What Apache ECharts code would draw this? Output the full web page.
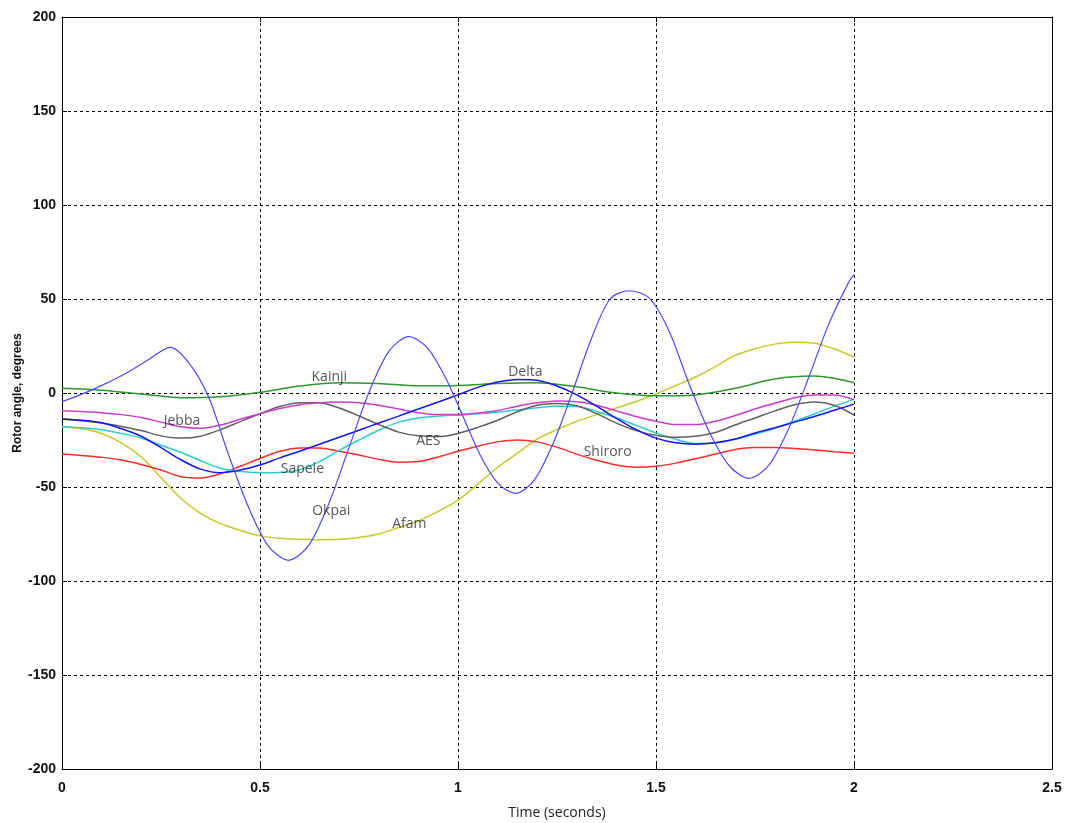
<!DOCTYPE html>
<html>
<head>
<meta charset="utf-8">
<script src="https://cdn.jsdelivr.net/npm/echarts@6/dist/echarts.min.js"></script>
<style>
html,body{margin:0;padding:0;background:#fff;}
#chart{width:1067px;height:823px;}
</style>
</head>
<body>
<div id="chart"></div>
<script>
// Tick labels
const xTicks = [0, 0.5, 1, 1.5, 2, 2.5];
const yTicks = [-200, -150, -100, -50, 0, 50, 100, 150, 200];

// Sample times (s): every 0.05 s from 0 to 2
const t05 = [0,0.05,0.1,0.15,0.2,0.25,0.3,0.35,0.4,0.45,0.5,0.55,0.6,0.65,0.7,0.75,0.8,0.85,0.9,0.95,1.0,1.05,1.1,1.15,1.2,1.25,1.3,1.35,1.4,1.45,1.5,1.55,1.6,1.65,1.7,1.75,1.8,1.85,1.9,1.95,2.0];
// Kainji sampled every 0.1 s
const t10 = [0,0.1,0.2,0.3,0.4,0.5,0.6,0.7,0.8,0.9,1.0,1.1,1.2,1.3,1.4,1.5,1.6,1.7,1.8,1.9,2.0];
// Okpai read at its peaks/troughs and between them
const okpaiT = [0,0.055,0.11,0.164,0.219,0.273,0.319,0.370,0.420,0.471,0.521,0.572,0.623,0.673,0.724,0.775,0.825,0.876,0.921,0.966,1.011,1.055,1.100,1.145,1.193,1.241,1.289,1.336,1.384,1.432,1.483,1.533,1.584,1.634,1.685,1.735,1.785,1.835,1.886,1.936,1.986,2.0];

// Rotor angles (degrees)
const okpaiV   = [-4.6,-0.2,5,10.8,17.8,24.3,16.4,-2,-32.5,-60.75,-81.4,-89,-81,-59.25,-29.5,0.25,22,30,24.4,9.15,-11.7,-32.55,-47.8,-53.4,-46.2,-26.45,0.5,28.5,50,54.4,50.5,33,4.5,-20.45,-38.7,-45.4,-38.4,-19,8.5,36.5,58.7,63];
const kainjiV  = [2.5,1.5,-0.5,-2.5,-2,0.4,3.7,5.5,5,3.8,4,5,5.5,3.3,0,-1.5,-1,2.5,7.5,9,5.5];
const jebbaV   = [-9.4,-9.9,-10.5,-11.5,-13,-15.5,-18,-18.8,-17,-14,-11,-8.3,-6.2,-5.2,-4.8,-5.2,-6.5,-8.5,-10.5,-11.5,-11.5,-10.7,-9.3,-7,-5.2,-4.2,-4.6,-6.5,-9.5,-12.5,-15,-16.8,-16.8,-15,-12,-8.5,-5.5,-2.5,-1,-1,-3.4];
const aesV     = [-14,-14.8,-16,-17.8,-20,-22.8,-24,-23,-19.5,-15.2,-11,-7.2,-5.2,-5.2,-8,-12.2,-16.8,-20.8,-22.8,-23.2,-21.5,-18.3,-14.5,-10,-6.5,-5.6,-6.8,-11,-16,-20,-22.5,-23.6,-23,-21,-17,-13.3,-9.5,-6.2,-4.8,-6.5,-11.7];
const sapeleV  = [-17.9,-18.5,-19.5,-21.5,-24,-27.8,-31.5,-36,-40,-41.8,-42.4,-42.3,-40.8,-36.5,-30.5,-25,-19.8,-15.5,-13.3,-12.3,-11.7,-11.1,-10.3,-9,-7.8,-7.1,-7.2,-9.8,-13.2,-17.2,-21.2,-24.6,-26.8,-26.5,-24.6,-22,-18.8,-15,-11.2,-7,-3.4];
const deltaV   = [-13.8,-14.5,-15.8,-19,-23,-29,-35.5,-40.5,-42.4,-41,-38.3,-34.5,-31,-27.3,-23.5,-19.8,-16,-12.3,-8.5,-4.8,-1,3,5.8,7.2,6.8,3.7,-1,-7,-13.5,-19.5,-24,-26.5,-27.2,-26.5,-24.5,-21.3,-18.5,-15.5,-12.5,-9.2,-5.9];
const shiroroV = [-32.4,-33.2,-34.2,-35.6,-38,-41,-44.5,-45.2,-43,-39,-34.8,-31,-29.2,-29.2,-31,-33,-35.3,-36.8,-36.5,-34,-31,-28.3,-26,-25,-26,-28.8,-32.5,-35.8,-38.3,-39.5,-39,-37.3,-35,-32.5,-30,-29,-29,-29.5,-30.3,-31.2,-32];
const afamV    = [-17.9,-19,-21.5,-26.5,-34,-45,-56,-64,-69.5,-73,-76,-77.3,-77.8,-78,-77.8,-76.8,-75,-71.5,-68,-63,-57,-48.5,-39.5,-32,-24.5,-19.5,-15,-11.5,-8,-4.5,-0.5,4,8.5,14,20,23.5,26,27,26.5,23.5,19];

// Curve labels (name, time, angle)
const labelNames = ['Kainji','Delta','Jebba','AES','Shiroro','Sapele','Okpai','Afam'];
const labelT = [0.675, 1.17, 0.303, 0.925, 1.378, 0.607, 0.68, 0.877];
const labelV = [8.5, 11, -15, -25.5, -31.4, -40.4, -63, -69.7];

function pairs(t, v){ return t.map((x,i)=>[x, v[i]]); }

const chart = echarts.init(document.getElementById('chart'), null, {renderer:'canvas'});

const tickFont = {fontFamily:'"Liberation Sans Narrow","Liberation Sans",Arial,sans-serif', fontWeight:'bold', fontSize:14, color:'#111'};
const gridLine = {show:true, lineStyle:{color:'#000', type:[3,3], width:1}};

function line(name, t, v, color, w){
  return {name:name, type:'line', data:pairs(t,v), showSymbol:false, smooth:0.3,
    lineStyle:{color:color, width:w}, itemStyle:{color:color}, z:2, animation:false};
}

chart.setOption({
  animation:false,
  backgroundColor:'#fff',
  grid:{left:62, right:15, top:17, bottom:54, containLabel:false, outerBoundsMode:'none'},
  xAxis:[{
    type:'value', min:0, max:2.5, interval:0.5,
    name:'Time (seconds)', nameLocation:'middle', nameGap:37,
    nameTextStyle:{fontFamily:'"Open Sans","Noto Sans",sans-serif', fontSize:14, color:'#222'},
    axisLine:{show:true, onZero:false, lineStyle:{color:'#000', width:1}},
    axisTick:{show:true, inside:true, length:5, lineStyle:{color:'#000'}},
    axisLabel:Object.assign({margin:12, formatter:(v)=>xTicks.includes(v)?String(v):''}, tickFont),
    splitLine:gridLine
  },{
    type:'value', min:0, max:2.5, interval:0.5, position:'top',
    axisLine:{show:true, onZero:false, lineStyle:{color:'#000', width:1}},
    axisTick:{show:true, inside:true, length:5, lineStyle:{color:'#000'}},
    axisLabel:{show:false}, splitLine:{show:false}
  }],
  yAxis:[{
    type:'value', min:-200, max:200, interval:50,
    name:'Rotor angle, degrees', nameLocation:'middle', nameGap:38, nameRotate:90, nameMoveOverlap:false,
    nameTextStyle:{fontFamily:'"Liberation Sans",Arial,sans-serif', fontWeight:'bold', fontSize:12, color:'#111'},
    axisLine:{show:true, onZero:false, lineStyle:{color:'#000', width:1}},
    axisTick:{show:true, inside:true, length:5, lineStyle:{color:'#000'}},
    axisLabel:Object.assign({margin:6, formatter:(v)=>yTicks.includes(v)?String(v):''}, tickFont),
    splitLine:gridLine
  },{
    type:'value', min:-200, max:200, interval:50, position:'right',
    axisLine:{show:true, onZero:false, lineStyle:{color:'#000', width:1}},
    axisTick:{show:true, inside:true, length:5, lineStyle:{color:'#000'}},
    axisLabel:{show:false}, splitLine:{show:false}
  }],
  series:[
    line('Afam', t05, afamV, '#c8c82a', 1.5),
    line('Shiroro', t05, shiroroV, '#ff2a2a', 1.5),
    line('Sapele', t05, sapeleV, '#2ccccc', 1.5),
    line('AES', t05, aesV, '#606060', 1.5),
    line('Jebba', t05, jebbaV, '#cc3ccc', 1.5),
    line('Kainji', t10, kainjiV, '#2e962e', 1.5),
    line('Delta', t05, deltaV, '#1414f0', 1.5),
    line('Okpai', okpaiT, okpaiV, '#4a4aff', 1.2),
    {
      name:'labels', type:'scatter', symbolSize:0, z:5, animation:false,
      data: labelNames.map((n,i)=>({value:[labelT[i], labelV[i]], name:n})),
      label:{show:true, position:'inside', formatter:(p)=>p.name,
        fontFamily:'"Open Sans","Noto Sans",sans-serif', fontSize:14, color:'#2a2a2a'},
      emphasis:{disabled:true}, silent:true
    }
  ]
});
</script>
</body>
</html>
